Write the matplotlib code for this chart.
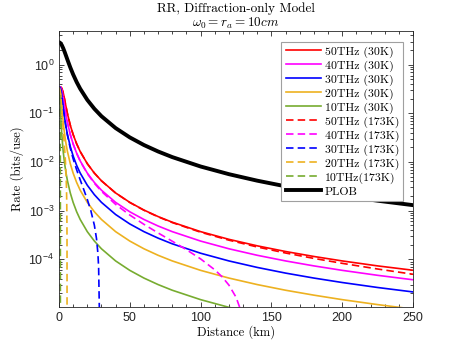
import matplotlib
matplotlib.use('Agg')  # no display
import matplotlib.pyplot as plt
from matplotlib.ticker import MultipleLocator, LogLocator, NullFormatter

plt.rcParams['font.family'] = ['Liberation Sans', 'DejaVu Sans']
plt.rcParams['mathtext.fontset'] = 'cm'

# distance grid (km) shared by the solid curves and PLOB
dist = [0, 0.25, 0.5, 1, 1.5, 2, 3, 4, 5, 6, 8, 10, 12.5, 15, 20, 25, 30, 40,
        50, 60, 70, 80, 100, 120, 140, 160, 180, 200, 225, 250]

# 30K curves (bits/use)
r50_30 = [0.35, 0.35, 0.3499, 0.3484, 0.3423, 0.3273, 0.2664, 0.1928, 0.1362, 0.0985,
          0.0570, 0.0368, 0.0236, 0.0164, 9.25e-3, 5.92e-3, 4.11e-3, 2.31e-3,
          1.48e-3, 1.028e-3, 7.55e-4, 5.78e-4, 3.70e-4, 2.57e-4, 1.89e-4, 1.445e-4,
          1.142e-4, 9.25e-5, 7.31e-5, 5.95e-5]
r40_30 = [0.35, 0.35, 0.3498, 0.3462, 0.3321, 0.3012, 0.2102, 0.1362, 0.0914, 0.0646,
          0.0368, 0.0236, 0.01516, 0.01052, 5.92e-3, 3.79e-3, 2.63e-3, 1.48e-3,
          9.47e-4, 6.58e-4, 4.83e-4, 3.70e-4, 2.368e-4, 1.644e-4, 1.208e-4, 9.25e-5,
          7.31e-5, 5.92e-5, 4.68e-5, 3.79e-5]
r30_30 = [0.35, 0.35, 0.3492, 0.3385, 0.3012, 0.2412, 0.1362, 0.0809, 0.0526, 0.0368,
          0.0208, 0.01332, 8.52e-3, 5.92e-3, 3.33e-3, 2.13e-3, 1.48e-3, 8.33e-4,
          5.33e-4, 3.70e-4, 2.72e-4, 2.08e-4, 1.332e-4, 9.25e-5, 6.80e-5, 5.20e-5,
          4.11e-5, 3.33e-5, 2.63e-5, 2.13e-5]
r20_30 = [0.35, 0.3498, 0.3462, 0.3012, 0.2102, 0.1362, 0.0646, 0.0368, 0.0236, 0.0164,
          9.25e-3, 5.92e-3, 3.79e-3, 2.63e-3, 1.48e-3, 9.47e-4, 6.58e-4, 3.70e-4,
          2.37e-4, 1.644e-4, 1.208e-4, 9.25e-5, 5.92e-5, 4.11e-5, 3.02e-5, 2.31e-5,
          1.83e-5, 1.48e-5, 1.17e-5, 9.47e-6]
r10_30 = [0.35, 0.3462, 0.3012, 0.1362, 0.0646, 0.0368, 0.0164, 9.25e-3, 5.92e-3, 4.11e-3,
          2.31e-3, 1.48e-3, 9.47e-4, 6.58e-4, 3.70e-4, 2.37e-4, 1.644e-4, 9.25e-5,
          5.92e-5, 4.11e-5, 3.02e-5, 2.31e-5, 1.48e-5, 1.028e-5, 7.55e-6, 5.78e-6,
          4.57e-6, 3.70e-6, 2.92e-6, 2.37e-6]

plob = [2.885, 2.879, 2.860, 2.786, 2.671, 2.525, 2.185, 1.838, 1.526, 1.264,
        0.880, 0.633, 0.4395, 0.3202, 0.1893, 0.1241, 0.0873, 0.0498,
        0.03206, 0.02233, 0.01645, 0.01261, 8.08e-3, 5.617e-3, 4.129e-3, 3.162e-3,
        2.499e-3, 2.025e-3, 1.60e-3, 1.296e-3]

# 173K curves, each on its own distance grid (they fall off at a cut-off)
r50_173 = [0.35, 0.35, 0.3499, 0.3484, 0.3423, 0.3273, 0.2664, 0.1928, 0.1362, 0.0985,
           0.0570, 0.0368, 0.0236, 0.0164, 9.24e-3, 5.91e-3, 4.10e-3, 2.30e-3,
           1.47e-3, 1.018e-3, 7.45e-4, 5.68e-4, 3.60e-4, 2.47e-4, 1.79e-4, 1.345e-4,
           1.042e-4, 8.25e-5, 6.31e-5, 4.92e-5]

d40_173 = [0, 0.5, 1, 1.5, 2, 3, 4, 5, 6, 8, 10, 12.5, 15, 20, 25, 30, 40, 50, 60, 70,
           80, 90, 100, 110, 115, 120, 125, 128, 130, 132]
r40_173 = [0.3499, 0.3497, 0.3461, 0.3320, 0.3011, 0.2101, 0.1361, 0.0913, 0.0645, 0.0367,
           0.0235, 0.01503, 0.01039, 5.785e-3, 3.654e-3, 2.496e-3, 1.345e-3, 8.12e-4,
           5.23e-4, 3.48e-4, 2.35e-4, 1.574e-4, 1.018e-4, 6.07e-5, 4.41e-5, 2.94e-5,
           1.66e-5, 9.5e-6, 5.1e-6, 1e-7]

d30_173 = [0, 0.5, 1, 1.5, 2, 3, 4, 5, 6, 8, 10, 12.5, 15, 17.5, 20, 22.5, 25, 26.5,
           27.5, 28, 28.5, 28.6]
r30_173 = [0.3484, 0.3476, 0.3369, 0.2996, 0.2396, 0.1346, 0.0793, 0.0510, 0.0352, 0.0192,
           0.01169, 6.89e-3, 4.29e-3, 2.72e-3, 1.70e-3, 1.00e-3, 5.01e-4, 2.67e-4,
           1.31e-4, 6.9e-5, 1.0e-5, 1e-7]

d20_173 = [0, 0.25, 0.5, 1, 1.5, 2, 2.5, 3, 3.5, 4, 4.5, 5, 5.3, 5.5, 5.65, 5.7, 5.75]
r20_173 = [0.332, 0.3318, 0.3282, 0.2832, 0.1922, 0.1182, 0.0734, 0.0466, 0.02984, 0.0188,
           0.01121, 5.6e-3, 3.0e-3, 1.52e-3, 5.0e-4, 1.8e-4, 1e-7]

d10_173 = [0, 0.25, 0.5, 0.6, 0.7, 0.8, 0.9, 0.95, 1.0, 1.005]
r10_173 = [0.215, 0.2112, 0.1662, 0.1314, 0.0936, 0.0578, 0.0269, 0.0134, 1.2e-3, 1e-7]

red = '#ff0000'
mag = '#ff00ff'
blu = '#0000ff'
ora = '#edb120'
grn = '#77ac30'
dash = (0, (4.5, 2.5))

fig = plt.figure(figsize=(4.57, 3.46), dpi=100)
ax = fig.add_axes([0.129, 0.113, 0.775, 0.797])

lw = 1.2
ax.plot(dist, r50_30, color=red, lw=lw, label='50THz (30K)')
ax.plot(dist, r40_30, color=mag, lw=lw, label='40THz (30K)')
ax.plot(dist, r30_30, color=blu, lw=lw, label='30THz (30K)')
ax.plot(dist, r20_30, color=ora, lw=lw, label='20THz (30K)')
ax.plot(dist, r10_30, color=grn, lw=lw, label='10THz (30K)')
ax.plot(dist, r50_173, color=red, lw=lw, ls=dash, label='50THz (173K)')
ax.plot(d40_173, r40_173, color=mag, lw=lw, ls=dash, label='40THz (173K)')
ax.plot(d30_173, r30_173, color=blu, lw=lw, ls=dash, label='30THz (173K)')
ax.plot(d20_173, r20_173, color=ora, lw=lw, ls=dash, label='20THz (173K)')
ax.plot(d10_173, r10_173, color=grn, lw=lw, ls=dash, label='10THz(173K)')
ax.plot(dist, plob, color='black', lw=2.8, label='PLOB')

ax.set_yscale('log')
ax.set_xlim(0, 250)
ax.set_ylim(1.05e-5, 4.9)
ax.set_yticks([1e-4, 1e-3, 1e-2, 1e-1, 1e0])
ax.yaxis.set_minor_locator(LogLocator(base=10, subs=range(2, 10), numticks=20))
ax.yaxis.set_minor_formatter(NullFormatter())
ax.set_xticks([0, 50, 100, 150, 200, 250])
ax.xaxis.set_minor_locator(MultipleLocator(10))

ax.tick_params(which='both', direction='in', top=True, right=True,
               colors='#262626', labelsize=9, width=0.6)
ax.tick_params(which='major', length=3.5)
ax.tick_params(which='minor', length=2)
for sp in ax.spines.values():
    sp.set_color('#262626')
    sp.set_linewidth(0.6)

ax.set_xlabel('Distance (km)', fontfamily='cmr10', fontsize=9, labelpad=1)
ax.set_ylabel('Rate (bits/use)', fontfamily='cmr10', fontsize=9.2, labelpad=3)
ax.set_title('RR, Diffraction-only Model\n$\\omega_0 = r_a = 10cm$',
             fontfamily='cmr10', fontsize=9.5, pad=2, linespacing=1.05)

leg = ax.legend(loc='upper right', bbox_to_anchor=(0.972, 0.96), borderaxespad=0,
                prop={'family': 'cmr10', 'size': 8.5}, fancybox=False,
                edgecolor='#a0a0a0', framealpha=1, handlelength=3.0,
                handletextpad=0.3, labelspacing=0.22, borderpad=0.35)
leg.get_frame().set_linewidth(0.8)

fig.savefig('out.png', dpi=100)
